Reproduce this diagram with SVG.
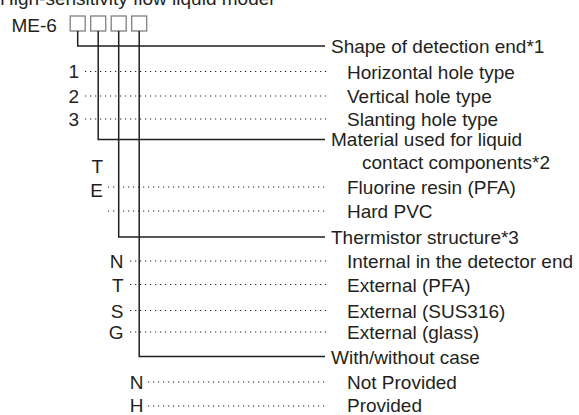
<svg xmlns="http://www.w3.org/2000/svg" width="579" height="415" viewBox="0 0 579 415">
<style>
text{font-family:"Liberation Sans",Arial,sans-serif;font-size:19px;fill:#231f20}
.code{text-anchor:end}
.solid{fill:none;stroke:#231f20;stroke-width:1.5}
.dot{fill:none;stroke:#231f20;stroke-width:1.2;stroke-dasharray:1.2 3.8}
.box{fill:#fff;stroke:#808080;stroke-width:1.3}
</style>
<rect width="579" height="415" fill="#fff"/>
<text x="0" y="5" font-size="20">High-sensitivity flow liquid model</text>
<g id="model">
<text x="11.5" y="31.5" font-size="21">ME-6</text>
<rect class="box" x="70.2" y="16" width="15" height="15"/>
<rect class="box" x="90.7" y="16" width="15" height="15"/>
<rect class="box" x="111.2" y="16" width="15" height="15"/>
<rect class="box" x="131.7" y="16" width="15" height="15"/>
</g>
<g id="connectors">
<path class="dot" d="M85 71.5H328M85 96H328M85 119H328"/>
<path class="dot" d="M108 187H328M108 211H328"/>
<path class="dot" d="M130 261H328M130 284.5H328M130 310.5H328M130 332H328"/>
<path class="dot" d="M148 382H328M148 406H328"/>
<path class="solid" d="M77.7 31V46H325"/>
<path class="solid" d="M98.2 31V139.5H325"/>
<path class="solid" d="M118.7 31V237H325"/>
<path class="solid" d="M139.2 31V356.5H325"/>
</g>
<g id="shape">
<text x="331" y="52.5">Shape of detection end*1</text>
<text class="code" x="79" y="78">1</text>
<text x="347" y="78.5">Horizontal hole type</text>
<text class="code" x="79" y="102.5">2</text>
<text x="347" y="103">Vertical hole type</text>
<text class="code" x="79" y="125.5">3</text>
<text x="347" y="126">Slanting hole type</text>
</g>
<g id="material">
<text x="331" y="146">Material used for liquid</text>
<text x="362" y="169">contact components*2</text>
<text class="code" x="103" y="172.5">T</text>
<text class="code" x="103" y="196.5">E</text>
<text x="347" y="194">Fluorine resin (PFA)</text>
<text x="347" y="218">Hard PVC</text>
</g>
<g id="thermistor">
<text x="331" y="244">Thermistor structure*3</text>
<text class="code" x="123.5" y="268">N</text>
<text x="347" y="268">Internal in the detector end</text>
<text class="code" x="123.5" y="291.5">T</text>
<text x="347" y="291.5">External (PFA)</text>
<text class="code" x="123.5" y="317.5">S</text>
<text x="347" y="317.5">External (SUS316)</text>
<text class="code" x="123.5" y="339">G</text>
<text x="347" y="339">External (glass)</text>
</g>
<g id="case">
<text x="331" y="363.5">With/without case</text>
<text class="code" x="143.5" y="389">N</text>
<text x="347" y="389">Not Provided</text>
<text class="code" x="143.5" y="412">H</text>
<text x="347" y="412">Provided</text>
</g>
</svg>
